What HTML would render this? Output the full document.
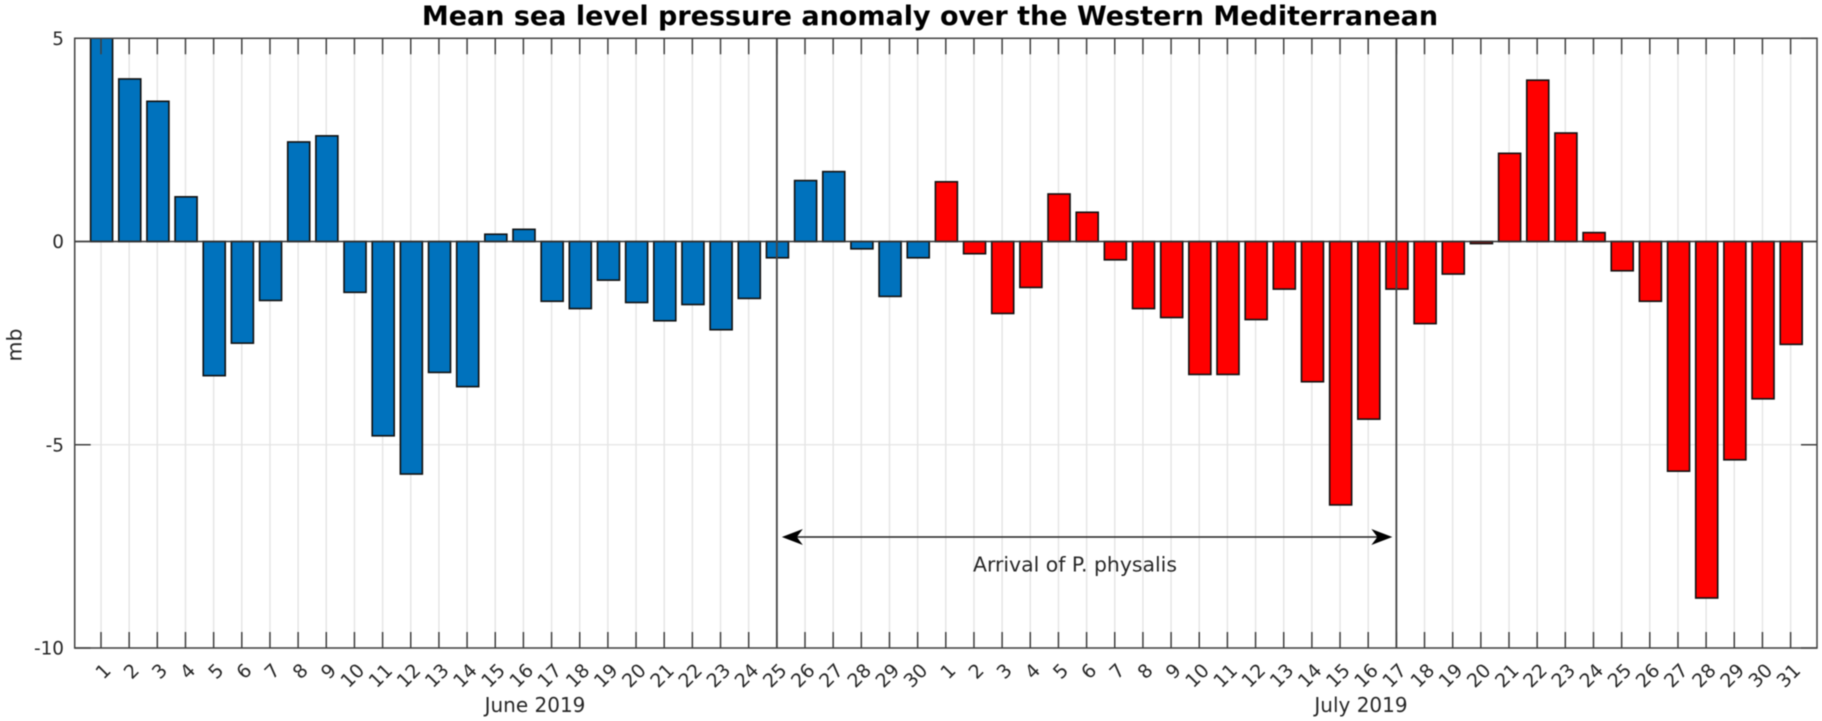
<!DOCTYPE html>
<html lang="en">
<head>
<meta charset="utf-8">
<title>Mean sea level pressure anomaly over the Western Mediterranean</title>
<style>
html,body{margin:0;padding:0;background:#fff;width:1822px;height:721px;overflow:hidden}
svg{display:block;filter:blur(0.4px)}
text{font-family:"DejaVu Sans",sans-serif;fill:#262626}
</style>
</head>
<body>
<svg id="chart" xmlns="http://www.w3.org/2000/svg" width="1822" height="721" viewBox="0 0 1822 721"></svg>
<script>
const juneDays = [1,2,3,4,5,6,7,8,9,10,11,12,13,14,15,16,17,18,19,20,21,22,23,24,25,26,27,28,29,30];
const julyDays = [1,2,3,4,5,6,7,8,9,10,11,12,13,14,15,16,17,18,19,20,21,22,23,24,25,26,27,28,29,30,31];
const juneValues = [5.6,4.0,3.45,1.1,-3.3,-2.5,-1.45,2.45,2.6,-1.25,-4.78,-5.72,-3.22,-3.57,0.18,0.3,-1.47,-1.65,-0.95,-1.5,-1.95,-1.55,-2.17,-1.4,-0.4,1.5,1.72,-0.18,-1.35,-0.4];
const julyValues = [1.47,-0.3,-1.77,-1.13,1.17,0.72,-0.45,-1.65,-1.87,-3.27,-3.27,-1.92,-1.17,-3.45,-6.48,-4.37,-1.17,-2.02,-0.8,-0.05,2.17,3.97,2.67,0.22,-0.72,-1.47,-5.65,-8.77,-5.37,-3.87,-2.53];
const yTicks = [5,0,-5,-10];
const yMin = -10, yMax = 5;
const arrivalStartIndex = 24, arrivalEndIndex = 46;

const svg = document.getElementById('chart');
const NS = 'http://www.w3.org/2000/svg';
const plotL = 74.7, plotR = 1817, plotT = 38.3, plotB = 648;
const xFirst = 101, xStep = 28.16;
const xScale = i => xFirst + i * xStep;
const yScale = v => plotT + (yMax - v) / (yMax - yMin) * (plotB - plotT);

function make(tag, attrs, parent) {
  const el = document.createElementNS(NS, tag);
  for (const k in attrs) el.setAttribute(k, attrs[k]);
  (parent || svg).appendChild(el);
  return el;
}

const defs = make('defs', {});
const clip = make('clipPath', {id: 'plot-clip'}, defs);
make('rect', {x: plotL, y: plotT, width: plotR - plotL, height: plotB - plotT}, clip);

const allDays = juneDays.concat(julyDays);
const allValues = juneValues.concat(julyValues);

/* grid */
allDays.forEach((d, i) => {
  const g = make('line', {x1: xScale(i), x2: xScale(i), y1: plotT, y2: plotB, stroke: '#e4e4e4', 'stroke-width': 1.4});
  
  
});
yTicks.forEach(v => {
  const g = make('line', {x1: plotL, x2: plotR, y1: yScale(v), y2: yScale(v), stroke: '#e4e4e4', 'stroke-width': 1.2});
  
  
});

/* bars */
const barGroup = make('g', {'clip-path': 'url(#plot-clip)'});


allValues.forEach((v, i) => {
  const y0 = yScale(0), y1 = yScale(v);
  const b = make('rect', {
    x: xScale(i) + 0.6 - 11,
    y: Math.min(y0, y1),
    width: 22,
    height: Math.abs(y1 - y0),
    fill: i < juneValues.length ? '#0072BD' : '#FF0000',
    stroke: '#111',
    'stroke-width': 1.6
  }, barGroup);
  
  
});

/* zero baseline */
const zero = make('line', {x1: plotL, x2: plotR, y1: yScale(0), y2: yScale(0), stroke: '#333', 'stroke-width': 1.5});



/* axis ticks and tick labels */
allDays.forEach((d, i) => {
  const x = xScale(i);
  const tb = make('line', {x1: x, x2: x, y1: plotB, y2: plotB - 16, stroke: '#404040', 'stroke-width': 1.5});
  
  
  const tt = make('line', {x1: x, x2: x, y1: plotT, y2: plotT + 16, stroke: '#404040', 'stroke-width': 1.5});
  
  
  const ax = x + 1.5, ay = 662;
  const t = make('text', {x: ax, y: ay, 'text-anchor': 'end', 'font-size': 19, transform: 'rotate(-45 ' + ax + ' ' + ay + ')', 'dominant-baseline': 'hanging'});
  t.textContent = d;
  
  
});
yTicks.forEach(v => {
  const y = yScale(v);
  const tl = make('line', {x1: plotL, x2: plotL + 16, y1: y, y2: y, stroke: '#404040', 'stroke-width': 1.5});
  
  
  const tr = make('line', {x1: plotR, x2: plotR - 16, y1: y, y2: y, stroke: '#404040', 'stroke-width': 1.5});
  
  
  const t = make('text', {x: 64, y: y + 6.5, 'text-anchor': 'end', 'font-size': 18.4});
  t.textContent = v;
  
  
});

/* frame */
const frame = make('rect', {x: plotL, y: plotT, width: plotR - plotL, height: plotB - plotT, fill: 'none', stroke: '#404040', 'stroke-width': 1.5});



/* period markers */
[arrivalStartIndex, arrivalEndIndex].forEach(i => {
  const m = make('line', {x1: xScale(i), x2: xScale(i), y1: plotT, y2: plotB, stroke: '#444', 'stroke-width': 1.8});
  
  
});

/* arrow */
const arrowY = 537;
const ax0 = xScale(arrivalStartIndex) + 5, ax1 = xScale(arrivalEndIndex) - 4;
const arrowLine = make('line', {x1: ax0 + 10, x2: ax1 - 10, y1: arrowY, y2: arrowY, stroke: '#222', 'stroke-width': 1.6});


const headL = make('path', {d: `M${ax0} ${arrowY} L${ax0 + 21} ${arrowY - 8} L${ax0 + 15} ${arrowY} L${ax0 + 21} ${arrowY + 8} Z`, fill: '#000'});


const headR = make('path', {d: `M${ax1} ${arrowY} L${ax1 - 21} ${arrowY - 8} L${ax1 - 15} ${arrowY} L${ax1 - 21} ${arrowY + 8} Z`, fill: '#000'});



const arrivalText = make('text', {x: 1075, y: 571.5, 'text-anchor': 'middle', 'font-size': 20.4});
arrivalText.textContent = 'Arrival of P. physalis';



/* titles */
const title = make('text', {x: 930, y: 25, 'text-anchor': 'middle', 'font-size': 27, 'font-weight': 'bold', style: 'fill:#000'});
title.textContent = 'Mean sea level pressure anomaly over the Western Mediterranean';



const yLabel = make('text', {x: 0, y: 0, 'text-anchor': 'middle', 'font-size': 20.5, transform: 'translate(21.5 345) rotate(-90)'});
yLabel.textContent = 'mb';



const juneLabel = make('text', {x: 535, y: 712, 'text-anchor': 'middle', 'font-size': 20});
juneLabel.textContent = 'June 2019';



const julyLabel = make('text', {x: 1361, y: 712, 'text-anchor': 'middle', 'font-size': 20});
julyLabel.textContent = 'July 2019';


</script>
</body>
</html>
